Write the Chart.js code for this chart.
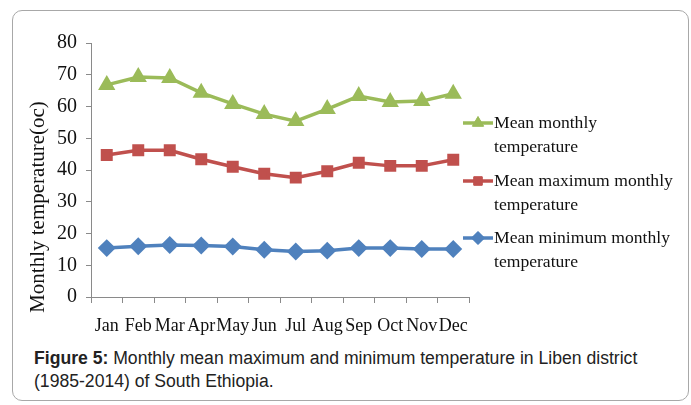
<!DOCTYPE html>
<html>
<head>
<meta charset="utf-8">
<script src="https://cdn.jsdelivr.net/npm/chart.js@4/dist/chart.umd.min.js"></script>
<style>
  html,body{margin:0;padding:0;background:#fff;}
  #box{position:absolute;left:12px;top:10px;width:677px;height:391px;border:1px solid #a8a8a8;border-radius:10px;box-sizing:border-box;}
  #wrap{position:absolute;left:0;top:0;width:677px;height:330px;}
  #cap{position:absolute;left:21px;top:336px;width:648px;font-family:"Liberation Sans",Arial,sans-serif;font-size:17.6px;line-height:23px;color:#222;}
  #cap b{font-weight:bold;}
</style>
</head>
<body>
<div id="box">
  <div id="wrap"><canvas id="c"></canvas></div>
  <div id="cap"><b>Figure 5:</b> Monthly mean maximum and minimum temperature in Liben district (1985-2014) of South Ethiopia.</div>
</div>
<script>
// data
const months = ["Jan","Feb","Mar","Apr","May","Jun","Jul","Aug","Sep","Oct","Nov","Dec"];
const meanMonthly = [66.8,69.3,69.0,64.3,60.8,57.6,55.4,59.2,63.3,61.4,61.7,64.0];
const meanMax = [44.7,46.2,46.2,43.4,41.0,38.8,37.6,39.6,42.3,41.3,41.3,43.2];
const meanMin = [15.4,16.0,16.4,16.2,15.9,14.9,14.3,14.6,15.4,15.4,15.1,15.1];
const yTicks = [0,10,20,30,40,50,60,70,80];
const legendNames = [["Mean monthly","temperature"],["Mean maximum monthly","temperature"],["Mean minimum monthly","temperature"]];
const yTitle = "Monthly temperature(oc)";

const serif = "'Liberation Serif','Times New Roman',serif";

// legend on the right (two lines per entry) + y title placed like the original
const sideLegend = {
  id:"sideLegend",
  afterDraw(chart){
    const ctx = chart.ctx;
    const x0 = 450, rowsY = [112,170,227];
    chart.data.datasets.forEach((ds,i)=>{
      const y = rowsY[i];
      ctx.save();
      ctx.strokeStyle = ds.borderColor; ctx.lineWidth = 3.5;
      ctx.beginPath(); ctx.moveTo(x0,y); ctx.lineTo(x0+30,y); ctx.stroke();
      ctx.fillStyle = ds.borderColor; ctx.strokeStyle = ds.borderColor; ctx.lineWidth = 1;
      ctx.beginPath();
      Chart.helpers.drawPoint(ctx,{pointStyle:ds.pointStyle,radius:ds.pointRadius,rotation:0,borderWidth:1},x0+15,y);
      ctx.fill();
      ctx.fillStyle = "#111"; ctx.font = "17.6px "+serif; ctx.textBaseline = "middle";
      legendNames[i].forEach((t,k)=>ctx.fillText(t,x0+31,y+k*24.5));
      ctx.restore();
    });
    ctx.save();
    ctx.translate(25,196); ctx.rotate(-Math.PI/2);
    ctx.fillStyle = "#111"; ctx.font = "21px "+serif; ctx.textAlign = "center"; ctx.textBaseline = "middle";
    ctx.fillText(yTitle,0,0);
    ctx.restore();
  }
};

new Chart(document.getElementById("c"),{
  type:"line",
  data:{
    labels:months,
    datasets:[
      {label:"Mean monthly temperature",data:meanMonthly,borderColor:"#9BBB59",backgroundColor:"#9BBB59",borderWidth:3.5,pointStyle:"triangle",pointRadius:6.5,tension:0},
      {label:"Mean maximum monthly temperature",data:meanMax,borderColor:"#C0504D",backgroundColor:"#C0504D",borderWidth:3.5,pointStyle:"rect",pointRadius:6,tension:0},
      {label:"Mean minimum monthly temperature",data:meanMin,borderColor:"#4F81BD",backgroundColor:"#4F81BD",borderWidth:3.5,pointStyle:"rectRot",pointRadius:6.5,tension:0}
    ]
  },
  options:{
    responsive:true,maintainAspectRatio:false,animation:false,
    layout:{padding:{top:32,right:221,left:0,bottom:0}},
    plugins:{legend:{display:false},tooltip:{enabled:false}},
    scales:{
      x:{
        offset:true,
        grid:{offset:true,drawOnChartArea:false,drawTicks:true,tickLength:6,color:"#8a8a8a"},
        border:{color:"#8a8a8a"},
        ticks:{color:"#111",font:{family:serif,size:18},padding:12,maxRotation:0,autoSkip:false},
        afterFit(s){s.height=44;}
      },
      y:{
        min:0,max:80,
        afterBuildTicks(s){s.ticks=yTicks.map(v=>({value:v}));},
        grid:{drawOnChartArea:false,drawTicks:true,tickLength:5,color:"#8a8a8a"},
        border:{color:"#8a8a8a"},
        ticks:{color:"#111",font:{family:serif,size:20},padding:9},
        afterFit(s){s.width=78;}
      }
    }
  },
  plugins:[sideLegend]
});
</script>
</body>
</html>
